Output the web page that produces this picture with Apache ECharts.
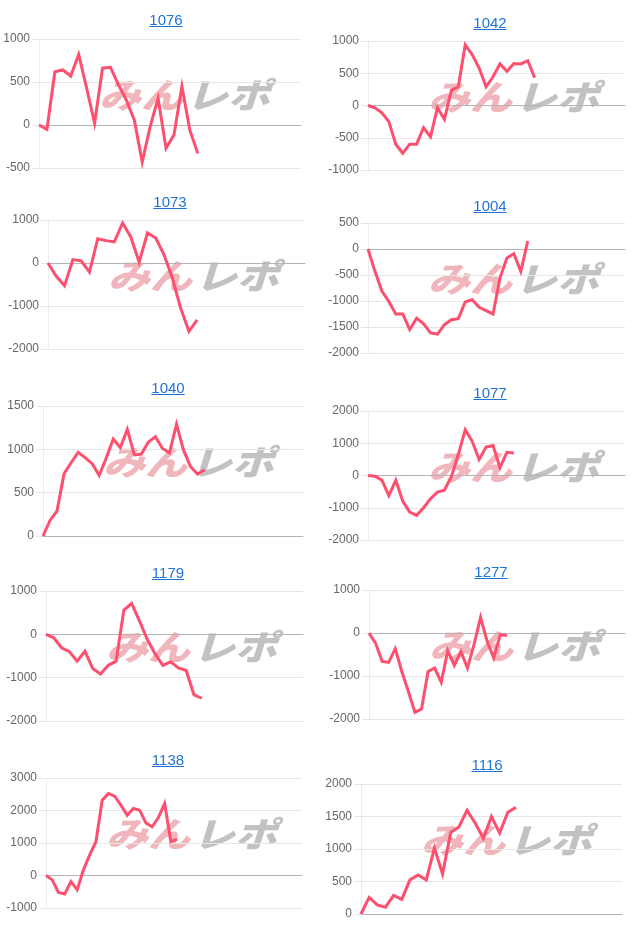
<!DOCTYPE html>
<html><head><meta charset="utf-8">
<script src="https://cdn.jsdelivr.net/npm/echarts@6/dist/echarts.min.js"></script>
<style>
html,body{margin:0;padding:0;background:#fff;}
#wrap{position:relative;width:640px;height:931px;overflow:hidden;}
#chart{position:absolute;left:0;top:0;width:640px;height:931px;}
.ttl{position:absolute;width:100px;text-align:center;font-size:15px;font-family:'Liberation Sans',Arial,sans-serif;color:#1f73d6;text-decoration:underline;line-height:18px;}
</style></head><body>
<div id="wrap"><div id="chart"></div></div>
<script>
// ---- data ----
const machineIds = ['1076','1042','1073','1004','1040','1077','1179','1277','1138','1116'];

const m1076 = [0, -50, 620, 640, 570, 820, 430, 20, 660, 670, 470, 290, 60, -430, -20, 310, -270, -115, 450, -60, -330];
const m1042 = [0, -35, -115, -250, -600, -740, -600, -600, -345, -485, -35, -215, 235, 290, 940, 790, 580, 290, 445, 645, 530, 650, 645, 695, 430];
const m1073 = [0, -310, -530, 80, 50, -210, 565, 520, 490, 930, 600, 20, 700, 580, 190, -350, -1050, -1590, -1320];
const m1004 = [0, -430, -810, -1010, -1250, -1250, -1550, -1330, -1440, -1615, -1635, -1455, -1360, -1340, -1020, -975, -1120, -1185, -1250, -560, -175, -90, -430, 150];
const m1040 = [0, 180, 290, 720, 845, 965, 905, 835, 700, 900, 1120, 1020, 1230, 935, 945, 1085, 1145, 1010, 960, 1290, 990, 800, 715, 765];
const m1077 = [0, -20, -145, -620, -145, -795, -1135, -1235, -1000, -720, -515, -455, -40, 650, 1420, 1060, 495, 885, 930, 240, 720, 700];
const m1179 = [0, -80, -310, -400, -620, -390, -790, -915, -715, -620, 560, 715, 310, -115, -450, -715, -635, -775, -835, -1395, -1475];
const m1277 = [0, -235, -660, -685, -365, -895, -1360, -1845, -1765, -895, -815, -1145, -410, -755, -430, -815, -270, 365, -195, -585, -40, -60];
const m1138 = [0, -135, -520, -570, -185, -440, 175, 635, 1040, 2315, 2520, 2440, 2165, 1855, 2060, 2010, 1620, 1500, 1785, 2215, 1040, 1120];
const m1116 = [0, 255, 140, 105, 285, 225, 525, 600, 525, 1015, 615, 1255, 1340, 1595, 1400, 1165, 1500, 1245, 1565, 1640];

const seriesValues = [m1076, m1042, m1073, m1004, m1040, m1077, m1179, m1277, m1138, m1116];

// number of slots on each hidden x axis
const slotCounts = [34, 38, 32, 38, 38, 38, 34, 40, 42, 33];

// y axis ticks
const yMins  = [-500, -1000, -2000, -2000,    0, -2000, -2000, -2000, -1000,    0];
const yMaxs  = [1000,  1000,  1000,   500, 1500,  2000,  1000,  1000,  3000, 2000];
const ySteps = [ 500,   500,  1000,   500,  500,  1000,  1000,  1000,  1000,  500];

// ---- layout (pixels) ----
const boxes = [ // left, top, right, bottom
  [39, 39, 301, 168], [368, 41, 625, 170],
  [48, 220, 305, 349], [368, 223, 625, 353],
  [43, 406, 303, 536], [368, 411, 625, 540],
  [46, 591, 303, 721], [369, 590, 625, 719],
  [46, 778, 302, 908], [361, 784, 622, 914]
];
const titlePos = [[166,20],[490,23],[170,202],[490,206],[168,388],[490,393],[168,573],[491,572],[168,760],[487,765]];

const wrap = document.getElementById('wrap');
machineIds.forEach((id, i) => {
  const a = document.createElement('a');
  a.className = 'ttl';
  a.textContent = id;
  a.style.left = (titlePos[i][0] - 50) + 'px';
  a.style.top = (titlePos[i][1] - 9) + 'px';
  wrap.appendChild(a);
});

const grids = [], xAxes = [], yAxes = [], series = [], graphics = [];
boxes.forEach((b, i) => {
  grids.push({left: b[0], top: b[1], width: b[2] - b[0], height: b[3] - b[1], containLabel: false});
  const cats = [];
  for (let k = 1; k <= slotCounts[i]; k++) cats.push(String(k));
  xAxes.push({
    type: 'category', gridIndex: i, data: cats, boundaryGap: false,
    axisLabel: {show: false}, axisTick: {show: false},
    axisLine: {show: true, onZero: true, lineStyle: {color: '#b4b4b4', width: 1}},
    splitLine: {show: false}
  });
  yAxes.push({
    type: 'value', gridIndex: i, min: yMins[i], max: yMaxs[i], interval: ySteps[i],
    axisLine: {show: true, lineStyle: {color: '#ececec'}},
    axisTick: {show: true, length: 7, lineStyle: {color: '#e6e6e6'}},
    axisLabel: {color: '#666', fontSize: 12, fontFamily: 'Liberation Sans, Arial, sans-serif', margin: 9,
      formatter: v => String(v)},
    splitLine: {show: true, lineStyle: {color: '#e6e6e6'}}
  });
  series.push({
    type: 'line', xAxisIndex: i, yAxisIndex: i, data: seriesValues[i],
    showSymbol: false, symbol: 'none', z: 3,
    lineStyle: {color: '#ff4f6f', width: 3, join: 'miter'}
  });
  graphics.push({
    type: 'text', left: b[0] + 60, top: b[1] + 39, z: 0, silent: true, scaleY: 0.82,
    style: {text: 'みん', fill: '#f1b6bb', font: 'italic 900 42px "Noto Sans CJK JP"'}
  });
  graphics.push({
    type: 'text', left: b[0] + 147, top: b[1] + 39, z: 0, silent: true, scaleY: 0.82,
    style: {text: 'レポ', fill: '#c2c2c2', font: 'italic 900 42px "Noto Sans CJK JP"'}
  });
});

const chart = echarts.init(document.getElementById('chart'), null, {renderer: 'canvas'});
chart.setOption({
  animation: false,
  backgroundColor: '#fff',
  grid: grids, xAxis: xAxes, yAxis: yAxes, series: series,
  graphic: graphics
});
</script>
</body></html>
